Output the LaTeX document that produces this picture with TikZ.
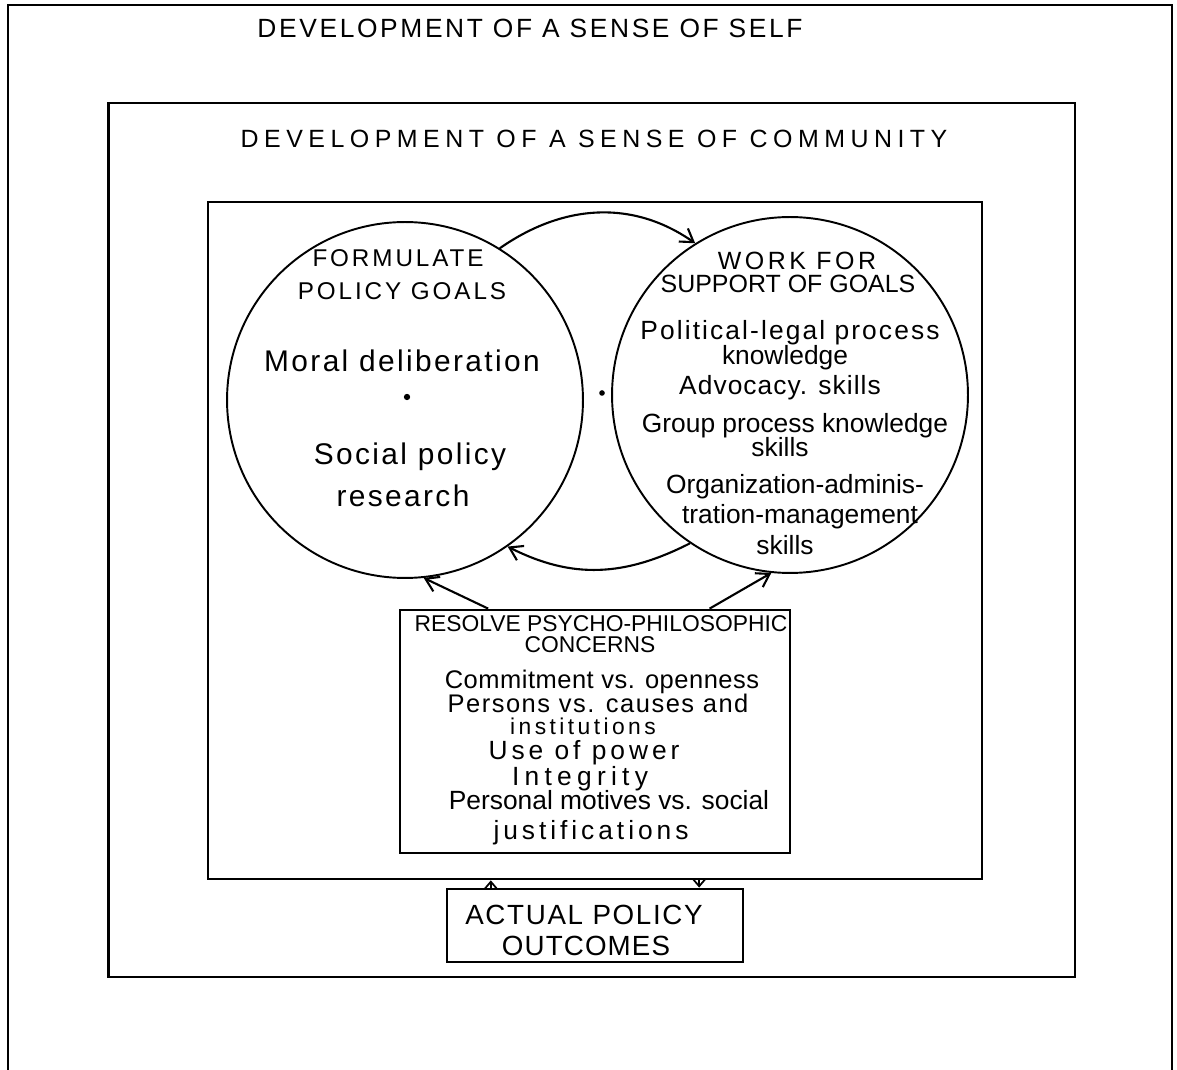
\documentclass[tikz,border=0pt]{standalone}
\usepackage{fontspec}
\setmainfont{Liberation Sans}
\usetikzlibrary{arrows.meta}

\begin{document}
\begin{tikzpicture}[x=0.02cm,y=-0.02cm,
	box/.style={draw, line width=1.6pt, inner sep=0pt},
	goal/.style={draw, circle, line width=1.1pt, minimum size=7.12cm, inner sep=0pt},
	lbl/.style 2 args={font=\fontsize{#1}{#1}\selectfont\addfontfeatures{LetterSpace=#2}, anchor=base, inner sep=0pt},
	hand/.style={-{Straight Barb[length=2.5mm,width=3.2mm]}, line width=1.2pt},
	tiny/.style={-{Straight Barb[length=1.4mm,width=2.4mm]}, line width=1pt}]
	\useasboundingbox (0,0) rectangle (1177,1070);
	\draw[line width=1.6pt] (8,1070) -- (8,5) -- (1172,5) -- (1172,1070);
	\node[lbl={15}{10}] (self) at (530,38) {DEVELOPMENT OF A SENSE OF SELF};

	\node[box, minimum width=19.34cm, minimum height=17.48cm] (community) at (591.5,540) {};
	\node[lbl={14.2}{22}] (comtitle) at (594,148) {DEVELOPMENT OF A SENSE OF COMMUNITY};

	\node[box, minimum width=15.48cm, minimum height=13.54cm] (inner) at (595,540.5) {};

	% the two circles
	\node[goal] (lc) at (405,400) {};
	\node[goal] (rc) at (790,395) {};

	\node[lbl={13.8}{12}] (f1) at (398,267) {FORMULATE};
	\node[lbl={13.8}{12}] (f2) at (402,300) {POLICY GOALS};
	\node[lbl={17}{8}] (f3) at (402,372) {Moral deliberation};
	\node[lbl={17}{8}] (f4) at (410,465) {Social policy};
	\node[lbl={17}{8}] (f5) at (403,507) {research};
	\fill (407,397) circle[radius=1.8pt];
	\fill (602,393) circle[radius=1.6pt];

	\node[lbl={14.2}{14}] (w1) at (797,270) {WORK FOR};
	\node[lbl={14.2}{0}] (w2) at (788,293) {SUPPORT OF GOALS};
	\node[lbl={15}{8}] (w3) at (790,340) {Political-legal process};
	\node[lbl={15}{0}] (w4) at (785,365) {knowledge};
	\node[lbl={15}{4}] (w5) at (780,395) {Advocacy. skills};
	\node[lbl={15}{0}] (w6) at (795,433) {Group process knowledge};
	\node[lbl={15}{0}] (w7) at (780,457) {skills};
	\node[lbl={15}{0}] (w8) at (795,494) {Organization-adminis-};
	\node[lbl={15}{0}] (w9) at (800,524) {tration-management};
	\node[lbl={15}{0}] (w10) at (785,555) {skills};

	\node[box, minimum width=7.8cm, minimum height=4.86cm] (resolve) at (595,731.5) {};
	\node[lbl={13}{0}] (r1) at (601,632) {RESOLVE PSYCHO-PHILOSOPHIC};
	\node[lbl={13}{0}] (r2) at (590,653) {CONCERNS};
	\node[lbl={14.5}{2}] (r3) at (602,689) {Commitment vs. openness};
	\node[lbl={14.5}{6}] (r4) at (598,713) {Persons vs. causes and};
	\node[lbl={13}{15}] (r5) at (583,735) {institutions};
	\node[lbl={15}{15}] (r6) at (584,760) {Use of power};
	\node[lbl={15}{20}] (r7) at (580,786) {Integrity};
	\node[lbl={15}{0}] (r8) at (609,810) {Personal motives vs. social};
	\node[lbl={15}{15}] (r9) at (591,840) {justifications};

	\node[box, minimum width=5.92cm, minimum height=1.46cm] (act) at (595,925.5) {};
	\node[lbl={15.8}{6}] (a1) at (584,925) {ACTUAL POLICY};
	\node[lbl={15.8}{4}] (a2) at (586,955) {OUTCOMES};

	\draw[hand] (lc.58) .. controls +(63,-44) and +(-63,-44) .. (rc.122);
	\draw[hand] (rc.-124) .. controls +(-65,33) and +(65,33) .. (lc.-55);
	\draw[hand] (resolve.131) -- (lc.-84);
	\draw[hand] (resolve.47) -- (rc.-96);
	\draw[tiny] (act.160) -- (act.160 |- inner.south);
	\draw[tiny] (act.20 |- inner.south) -- (act.20);
\end{tikzpicture}
\end{document}
